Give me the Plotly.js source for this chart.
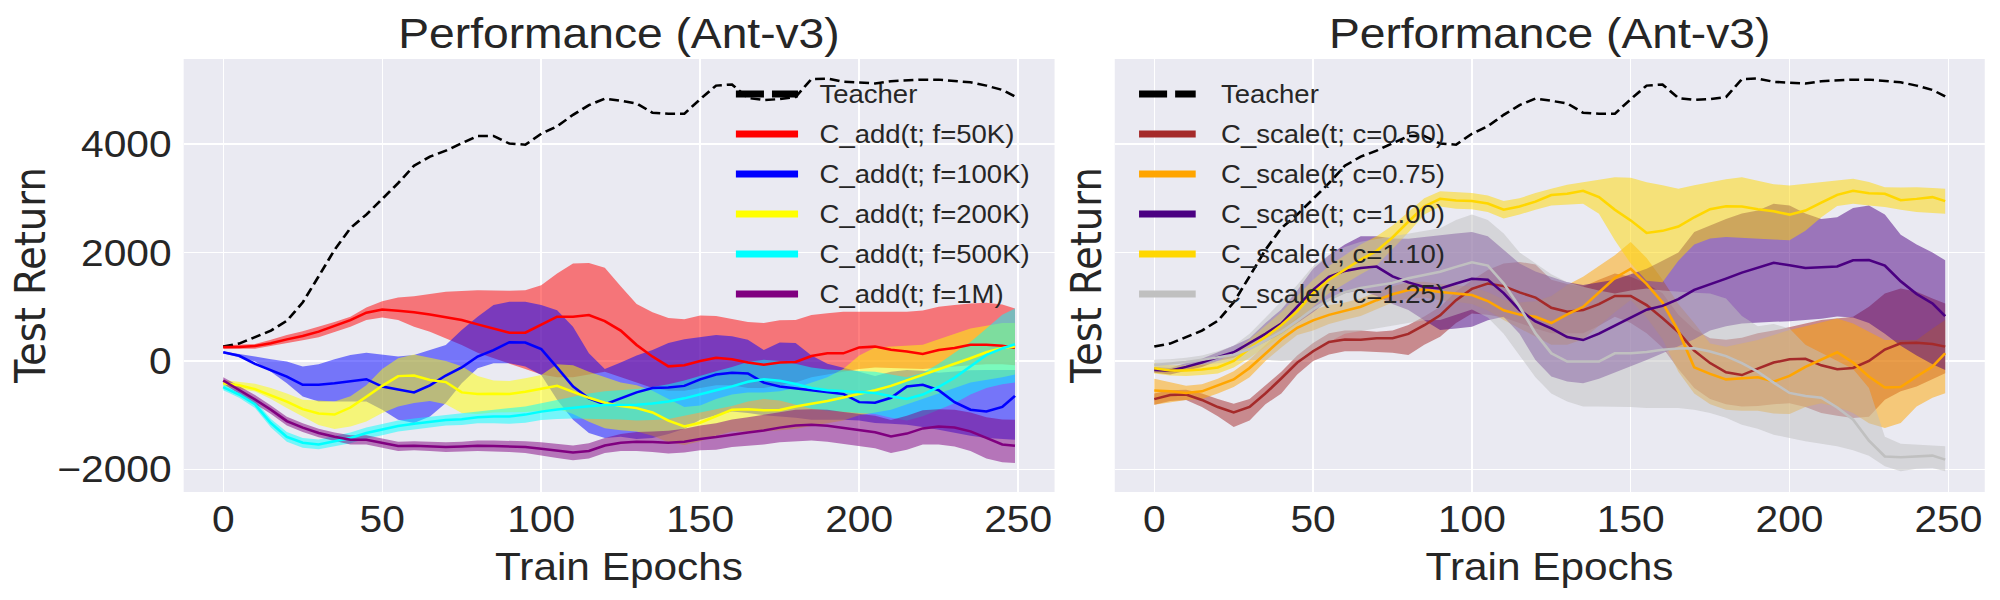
<!DOCTYPE html>
<html><head><meta charset="utf-8">
<script src="https://cdn.plot.ly/plotly-3.0.1.min.js"></script>
<style>html,body{margin:0;padding:0;background:#fff;overflow:hidden}
#chart{width:1818px;height:600px;transform:scaleX(1.1);transform-origin:0 0}</style>
</head><body><div id="chart"></div>
<script>
const epochs = [0,5,10,15,20,25,30,35,40,45,50,55,60,65,70,75,80,85,90,95,100,105,110,115,120,125,130,135,140,145,150,155,160,165,170,175,180,185,190,195,200,205,210,215,220,225,230,235,240,245,249];

const teacher = [265,320,440,560,740,1080,1560,2050,2450,2700,2990,3280,3600,3770,3880,4010,4150,4150,4010,3990,4190,4330,4540,4720,4840,4800,4750,4580,4560,4560,4830,5080,5100,4850,4815,4830,4870,5200,5210,5150,5130,5120,5160,5180,5190,5190,5160,5140,5080,5000,4880];

// Left panel: C_add series
const add50kMean = [257,257,276,325,398,460,540,650,754,889,950,925,900,858,803,754,674,600,521,521,662,815,815,846,735,560,294,80,-100,-80,0,60,30,-30,-70,-31,-20,90,141,141,250,264,205,175,130,200,240,300,300,280,245];
const add50kUp = [288,300,312,390,478,550,631,720,815,987,1103,1170,1195,1240,1275,1290,1306,1300,1293,1306,1398,1612,1796,1808,1720,1380,1050,900,790,770,840,830,780,720,700,750,754,846,880,907,907,907,907,907,930,999,1030,1061,1073,1040,969];
const add50kLo = [220,225,227,270,325,380,435,530,631,754,803,754,631,540,417,294,150,50,-50,-150,-250,-300,-300,-250,-200,-300,-400,-500,-550,-550,-500,-450,-450,-500,-500,-450,-400,-300,-250,-200,-150,-120,-130,-140,-150,-120,-100,-80,-60,-60,-80];

const add100kMean = [159,95,-55,-166,-288,-441,-441,-411,-380,-337,-472,-521,-580,-450,-270,-120,80,200,345,340,220,-120,-470,-690,-800,-690,-580,-500,-490,-460,-340,-250,-220,-230,-400,-470,-505,-540,-575,-610,-760,-770,-680,-470,-441,-540,-760,-900,-932,-850,-644];
const add100kUp = [172,130,80,30,-12,-104,-60,30,110,153,110,80,110,202,294,570,815,1030,1091,1091,1030,937,631,141,-150,-30,100,200,330,400,440,478,455,390,200,340,330,100,-50,-120,-200,-280,-200,-166,-180,-220,-200,-170,-166,-166,-166];
const add100kLo = [141,70,-12,-200,-411,-656,-748,-748,-748,-748,-901,-1085,-1146,-1024,-778,-411,-135,-43,-43,-104,-258,-717,-1085,-1330,-1422,-1400,-1440,-1420,-1350,-1250,-1085,-1000,-932,-960,-1000,-1024,-1050,-1085,-1085,-1085,-1100,-1146,-1160,-1177,-1220,-1269,-1320,-1380,-1420,-1440,-1453];

const add200kMean = [-411,-450,-520,-640,-750,-890,-970,-990,-860,-660,-460,-280,-270,-350,-390,-580,-610,-605,-610,-570,-520,-460,-570,-680,-770,-830,-870,-950,-1100,-1210,-1140,-1020,-900,-889,-910,-905,-840,-790,-740,-675,-610,-540,-460,-360,-250,-150,-50,50,160,240,264];
const add200kUp = [-350,-380,-420,-500,-600,-717,-730,-748,-650,-450,-150,50,120,60,0,-100,-280,-360,-370,-320,-260,-60,-80,-200,-300,-400,-450,-550,-700,-850,-820,-700,-620,-580,-580,-560,-500,-400,-300,-150,100,250,270,280,300,400,500,600,650,700,700];
const add200kLo = [-472,-520,-564,-700,-870,-1030,-1180,-1257,-1208,-1116,-962,-840,-778,-740,-800,-960,-980,-950,-945,-940,-920,-880,-980,-1120,-1240,-1280,-1300,-1380,-1500,-1550,-1480,-1380,-1300,-1300,-1300,-1280,-1250,-1200,-1150,-1100,-1000,-950,-900,-800,-700,-600,-500,-400,-350,-300,-250];

const add500kMean = [-484,-620,-800,-1150,-1400,-1510,-1540,-1480,-1422,-1330,-1269,-1200,-1160,-1130,-1090,-1075,-1040,-1024,-1024,-990,-935,-895,-860,-835,-815,-809,-809,-785,-750,-690,-610,-540,-470,-385,-340,-365,-425,-500,-540,-555,-570,-590,-650,-700,-620,-480,-310,-100,110,230,307];
const add500kUp = [-430,-560,-730,-1070,-1310,-1420,-1450,-1390,-1320,-1230,-1170,-1100,-1060,-1030,-990,-970,-930,-900,-880,-840,-780,-720,-660,-600,-560,-540,-520,-480,-430,-360,-270,-190,-110,-20,20,0,-50,-120,-160,-170,-180,-200,-250,-300,-220,-50,150,350,600,850,969];
const add500kLo = [-540,-680,-870,-1230,-1490,-1600,-1630,-1570,-1520,-1430,-1370,-1300,-1260,-1230,-1190,-1180,-1150,-1150,-1160,-1140,-1090,-1070,-1060,-1070,-1070,-1080,-1100,-1090,-1070,-1020,-950,-890,-830,-750,-700,-730,-800,-880,-920,-940,-960,-980,-1050,-1100,-1020,-900,-780,-620,-500,-430,-400];

const add1mMean = [-362,-530,-710,-900,-1110,-1230,-1330,-1400,-1453,-1453,-1510,-1570,-1565,-1575,-1590,-1580,-1565,-1570,-1575,-1590,-1620,-1660,-1690,-1660,-1560,-1510,-1490,-1495,-1510,-1490,-1440,-1405,-1360,-1320,-1285,-1230,-1192,-1178,-1197,-1238,-1281,-1315,-1395,-1340,-1245,-1210,-1228,-1300,-1420,-1540,-1563];
const add1mUp = [-300,-460,-630,-820,-1030,-1150,-1250,-1320,-1370,-1370,-1430,-1490,-1480,-1490,-1500,-1490,-1470,-1470,-1470,-1480,-1500,-1530,-1560,-1520,-1420,-1350,-1310,-1300,-1290,-1250,-1190,-1150,-1080,-1040,-990,-940,-900,-890,-900,-940,-980,-1010,-1090,-1010,-910,-890,-900,-950,-1040,-1080,-1085];
const add1mLo = [-420,-600,-790,-980,-1190,-1310,-1410,-1480,-1540,-1540,-1600,-1660,-1650,-1660,-1680,-1670,-1660,-1670,-1680,-1700,-1740,-1790,-1830,-1800,-1700,-1660,-1660,-1680,-1710,-1690,-1650,-1640,-1590,-1570,-1540,-1500,-1480,-1470,-1490,-1530,-1570,-1610,-1700,-1640,-1540,-1540,-1580,-1660,-1800,-1870,-1882];

// Right panel: C_scale series
const sc050Mean = [-705,-630,-620,-720,-850,-950,-850,-600,-320,-30,180,350,395,390,417,420,500,660,840,1120,1330,1428,1380,1265,1170,980,907,938,1050,1200,1200,1030,790,530,190,-40,-210,-260,-140,-30,30,40,-80,-153,-130,0,210,325,337,313,264];
const sc050Up = [-600,-540,-530,-600,-700,-790,-700,-450,-200,100,330,509,560,560,540,560,662,820,999,1280,1490,1680,1800,1827,1780,1500,1420,1367,1500,1612,1551,1430,1250,850,580,420,390,430,509,560,631,690,754,790,815,999,1244,1336,1275,1150,1061];
const sc050Lo = [-810,-740,-720,-850,-1020,-1220,-1100,-800,-600,-250,0,120,180,180,172,150,110,300,448,700,877,850,800,700,600,509,509,509,650,815,700,509,250,-150,-500,-700,-800,-840,-830,-800,-780,-850,-962,-1010,-1054,-1030,-717,-560,-472,-330,-227];

const sc075Mean = [-546,-560,-590,-560,-450,-340,-130,140,400,610,750,850,925,1000,1120,1230,1308,1315,1273,1244,1215,1105,935,855,815,700,860,999,1260,1530,1700,1420,1080,550,-120,-240,-340,-320,-300,-380,-276,-110,20,160,-30,-290,-490,-480,-288,-104,141];
const sc075Up = [-330,-400,-460,-430,-330,-190,20,300,550,800,938,1030,1080,1150,1270,1380,1450,1460,1420,1390,1367,1270,1130,1080,1100,1200,1400,1551,1750,1949,2195,1900,1500,1050,700,320,264,330,386,480,570,640,710,785,693,540,386,386,386,600,754];
const sc075Lo = [-810,-760,-720,-700,-600,-480,-300,0,250,480,560,680,760,830,960,1080,1150,1170,1120,1090,1050,930,754,600,450,300,300,400,650,900,1122,800,400,-200,-600,-800,-900,-920,-920,-970,-980,-850,-780,-850,-960,-1150,-1238,-1146,-840,-680,-595];

const sc100Mean = [-166,-180,-110,-30,70,160,330,500,690,1000,1310,1550,1660,1715,1740,1560,1450,1365,1336,1428,1515,1500,1250,940,730,600,440,386,505,650,800,945,1015,1140,1310,1410,1520,1630,1720,1810,1765,1715,1728,1743,1857,1860,1760,1470,1235,1061,828];
const sc100Up = [-110,-130,-40,40,160,280,420,700,950,1300,1700,1950,2150,2300,2300,2260,2256,2280,2317,2350,2378,2300,2050,1800,1650,1550,1450,1400,1450,1500,1600,1700,1850,2000,2380,2500,2620,2720,2777,2900,2870,2720,2620,2650,2820,2869,2700,2330,2150,2000,1857];
const sc100Lo = [-220,-250,-180,-110,0,60,200,350,500,700,900,1122,1250,1306,1200,1050,938,750,570,600,631,750,815,500,18,-288,-380,-411,-330,-227,-100,18,140,264,400,560,640,690,710,723,730,754,780,820,800,700,500,280,100,-60,-166];

const sc110Mean = [-135,-175,-178,-160,-120,0,230,440,660,920,1250,1500,1680,1870,2030,2280,2570,2850,2990,2961,2950,2905,2790,2850,2940,3060,3083,3140,3022,2790,2593,2360,2400,2480,2650,2800,2855,2850,2800,2760,2700,2775,2920,3065,3140,3095,3083,2965,2990,3022,2949];
const sc110Up = [-40,-80,-80,-60,0,150,400,650,900,1200,1500,1750,1950,2150,2300,2500,2750,3000,3130,3120,3100,3050,2950,3000,3100,3175,3250,3298,3350,3390,3380,3298,3240,3175,3240,3298,3350,3390,3330,3260,3237,3270,3298,3330,3359,3300,3206,3200,3206,3190,3175];
const sc110Lo = [-230,-270,-280,-260,-230,-120,60,250,450,700,1000,1250,1420,1600,1760,2060,2370,2700,2850,2810,2800,2750,2630,2700,2790,2869,2880,2900,2716,2225,1796,1480,1450,1850,2150,2260,2287,2270,2256,2240,2225,2400,2650,2860,2900,2870,2838,2790,2746,2730,2716];

const sc125Mean = [-74,-48,-18,20,65,115,220,375,540,740,955,1130,1270,1345,1390,1440,1525,1585,1645,1735,1820,1760,1430,999,510,140,-12,-12,-12,140,143,165,205,230,233,175,90,-40,-200,-400,-590,-645,-680,-860,-1080,-1470,-1762,-1777,-1759,-1747,-1821];
const sc125Up = [20,30,60,100,180,280,500,800,1100,1400,1750,1950,2100,2200,2250,2300,2350,2400,2450,2600,2700,2600,2350,2000,1800,1600,1450,1367,1300,1244,1300,1336,1300,1275,1260,1244,1150,830,640,680,600,300,150,0,-150,-500,-1400,-1530,-1545,-1560,-1575];
const sc125Lo = [-170,-140,-100,-70,-40,-10,18,20,0,18,150,350,500,550,600,650,700,750,754,850,950,800,500,100,-300,-600,-750,-840,-840,-840,-850,-870,-870,-870,-900,-962,-1050,-1177,-1250,-1361,-1420,-1483,-1530,-1575,-1650,-1750,-1943,-2035,-1990,-1974,-2035];

const leftLabels = ['C_add(t; f=50K)','C_add(t; f=100K)','C_add(t; f=200K)','C_add(t; f=500K)','C_add(t; f=1M)'];
const rightLabels = ['C_scale(t; c=0.50)','C_scale(t; c=0.75)','C_scale(t; c=1.00)','C_scale(t; c=1.10)','C_scale(t; c=1.25)'];
const teacherLabel = 'Teacher';
const xTickVals = [0,50,100,150,200,250];
const xTickText = ['0','50','100','150','200','250'];
const yTickVals = [-2000,0,2000,4000];
const yTickText = ['\u22122000','0','2000','4000'];
const panelTitle = 'Performance (Ant-v3)';
const xTitle = 'Train Epochs';
const yTitle = 'Test Return';

// styles
const leftColors = [[255,0,0],[0,0,255],[255,255,0],[0,255,255],[128,0,128]];
const rightColors = [[165,42,42],[255,165,0],[75,0,130],[255,215,0],[192,192,192]];
const leftSeries = [[add50kMean,add50kUp,add50kLo],[add100kMean,add100kUp,add100kLo],[add200kMean,add200kUp,add200kLo],[add500kMean,add500kUp,add500kLo],[add1mMean,add1mUp,add1mLo]];
const rightSeries = [[sc050Mean,sc050Up,sc050Lo],[sc075Mean,sc075Up,sc075Lo],[sc100Mean,sc100Up,sc100Lo],[sc110Mean,sc110Up,sc110Lo],[sc125Mean,sc125Up,sc125Lo]];

const W = 1818, H = 600;
const rgba = (c,a) => `rgba(${c[0]},${c[1]},${c[2]},${a})`;
const TXT = '#262626';
const SANS = 'Liberation Sans, Arial, sans-serif';

const traces = [];
function addPanel(series, colors, labels, xa, ya) {
  const xr = epochs.concat(epochs.slice().reverse());
  series.forEach((s, i) => {
    traces.push({type:'scatter', mode:'lines', x: xr, y: s[1].concat(s[2].slice().reverse()),
      fill:'toself', fillcolor: rgba(colors[i],0.5), line:{width:0, color:'rgba(0,0,0,0)'},
      hoverinfo:'skip', showlegend:false, xaxis:xa, yaxis:ya});
  });
  traces.push({type:'scatter', mode:'lines', x: epochs, y: teacher, name: teacherLabel,
    line:{color:'#000', width:2.5, dash:'9px,4.5px'}, showlegend:false, xaxis:xa, yaxis:ya});
  series.forEach((s, i) => {
    traces.push({type:'scatter', mode:'lines', x: epochs, y: s[0], name: labels[i],
      line:{color: rgba(colors[i],1), width:2.5}, showlegend:false, xaxis:xa, yaxis:ya});
  });
}
addPanel(leftSeries, leftColors, leftLabels, 'x', 'y');
addPanel(rightSeries, rightColors, rightLabels, 'x2', 'y2');

const px = v => v / W, py = v => 1 - v / H;
const shapes = [], annotations = [];
function addLegend(x0, x1, xt, colors, labels) {
  const rows = [94,134,174,214,254,294];
  shapes.push({type:'line', xref:'paper', yref:'paper', x0:px(x0), x1:px(x1), y0:py(rows[0]), y1:py(rows[0]),
    line:{color:'#000', width:7, dash:'25.5px,7.3px'}});
  annotations.push({xref:'paper', yref:'paper', x:px(xt), y:py(rows[0]), xanchor:'left', yanchor:'middle',
    text: teacherLabel, showarrow:false, font:{family:SANS, size:25, color:TXT}});
  labels.forEach((l, i) => {
    shapes.push({type:'line', xref:'paper', yref:'paper', x0:px(x0), x1:px(x1), y0:py(rows[i+1]), y1:py(rows[i+1]),
      line:{color: rgba(colors[i],1), width:7}});
    annotations.push({xref:'paper', yref:'paper', x:px(xt), y:py(rows[i+1]), xanchor:'left', yanchor:'middle',
      text: l, showarrow:false, font:{family:SANS, size:25, color:TXT}});
  });
}
addLegend(669, 725.5, 742.7, leftColors, leftLabels);
addLegend(1035.5, 1087, 1108, rightColors, rightLabels);

const dL = [166.96/W, 958.7/W], dR = [1013.4/W, 1804.3/W];
[[dL,0],[dR,1]].forEach(([d, k]) => {
  const cx = (d[0]+d[1])/2;
  annotations.push({xref:'paper', yref:'paper', x:cx, y:py(34), xanchor:'center', yanchor:'middle',
    text: panelTitle, showarrow:false, font:{family:SANS, size:42, color:TXT}});
  annotations.push({xref:'paper', yref:'paper', x:cx, y:py(566), xanchor:'center', yanchor:'middle',
    text: xTitle, showarrow:false, font:{family:SANS, size:38.5, color:TXT}});
  annotations.push({xref:'paper', yref:'paper', x:px(k===0 ? 27.5 : 987.5), y:py(275.5), xanchor:'center', yanchor:'middle',
    textangle:-90, text: yTitle, showarrow:false, font:{family:'DejaVu Sans, sans-serif', size:38.5, color:TXT}});
});

const xBase = {range:[-12.45,261.45], tickvals:xTickVals, ticktext:xTickText, showgrid:true, gridcolor:'#fff', gridwidth:1.3,
  zeroline:false, showline:false, ticks:'', ticklabelstandoff:2, tickfont:{family:SANS, size:37, color:TXT}, fixedrange:true};
const yBase = {range:[-2418,5571], tickvals:yTickVals, ticktext:yTickText, showgrid:true, gridcolor:'#fff', gridwidth:1.3,
  zeroline:false, showline:false, ticks:'', ticklabelstandoff:10, tickfont:{family:SANS, size:37, color:TXT}, domain:[0.18,0.9017], fixedrange:true};

const layout = {
  width: W, height: H, margin:{l:0,r:0,t:0,b:0}, paper_bgcolor:'#fff', plot_bgcolor:'#eaeaf2', showlegend:false,
  xaxis: Object.assign({}, xBase, {domain:dL, anchor:'y'}),
  xaxis2: Object.assign({}, xBase, {domain:dR, anchor:'y2'}),
  yaxis: Object.assign({}, yBase, {anchor:'x'}),
  yaxis2: Object.assign({}, yBase, {anchor:'x2', showticklabels:false}),
  shapes, annotations
};
Plotly.newPlot('chart', traces, layout, {staticPlot:true, displayModeBar:false});
</script></body></html>
